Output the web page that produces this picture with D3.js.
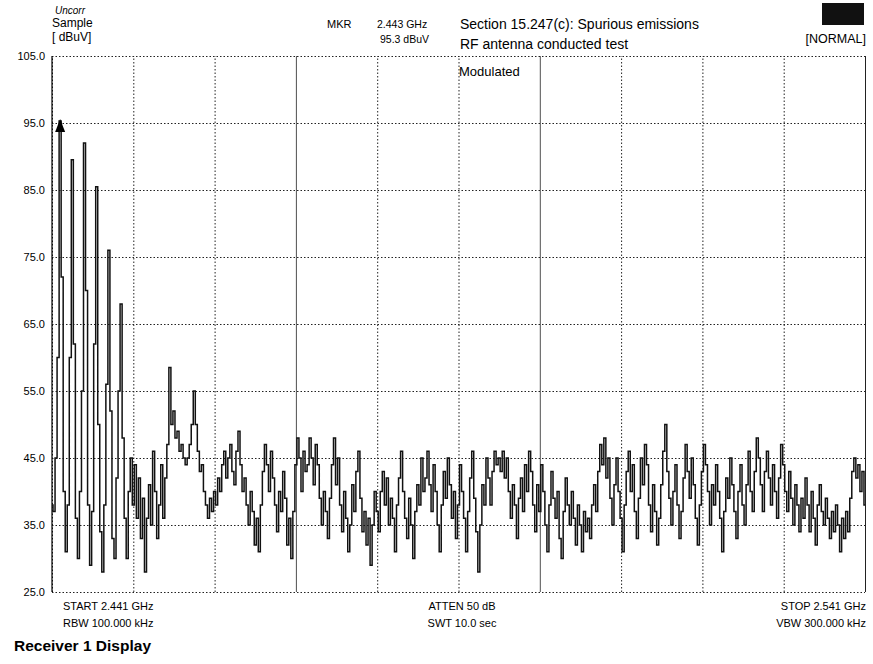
<!DOCTYPE html>
<html>
<head>
<meta charset="utf-8">
<script src="https://cdn.jsdelivr.net/npm/d3@7"></script>
<style>
  body { margin: 0; background: #fff; }
  svg { font-family: "Liberation Sans", Arial, sans-serif; }
</style>
</head>
<body>
<div id="chart"></div>
<script>
// sweep settings
const startGHz = 2.441;
const stopGHz = 2.541;
const yTicks = [25, 35, 45, 55, 65, 75, 85, 95, 105];
const xGrid = [2.441, 2.451, 2.461, 2.471, 2.481, 2.491, 2.501, 2.511, 2.521, 2.531, 2.541];
const marker = { freq: 2.443, level: 95.3 };

// trace levels in dBuV, 401 sweep points
const level = [
  38, 37, 45, 60, 95.3, 72, 40, 31, 38, 60, 89.5, 62, 36, 30, 40, 55, 92, 70, 38, 29,
  37, 62, 85.5, 50, 34, 28, 38, 56, 76, 52, 33, 30, 42, 55, 68, 48, 36, 30, 40, 45,
  38, 44, 36, 42, 33, 39, 28, 36, 41, 35, 46, 40, 33, 38, 44, 36, 42, 47, 58.5, 50,
  52, 48, 49, 46, 47, 45, 44, 45, 47, 50, 55, 50, 46, 43, 44, 40, 38, 36, 39, 37,
  40, 38, 42, 40, 44, 46, 42, 45, 47, 43, 41, 46, 49, 44, 40, 42, 38, 35, 40, 37,
  32, 36, 31, 38, 43, 47, 44, 40, 46, 42, 38, 34, 40, 37, 43, 39, 32, 36, 30, 37,
  44, 48, 45, 40, 46, 43, 44, 48, 45, 41, 47, 44, 39, 35, 40, 37, 33, 39, 44, 48,
  41, 45, 38, 34, 40, 36, 31, 35, 41, 37, 43, 46, 39, 34, 37, 32, 36, 29, 35, 40,
  37, 34, 40, 43, 38, 42, 35, 39, 36, 31, 38, 42, 46, 40, 36, 33, 39, 35, 30, 37,
  41, 38, 45, 40, 42, 46, 41, 37, 44, 40, 35, 31, 38, 43, 39, 45, 41, 36, 40, 33,
  38, 44, 40, 36, 31, 37, 42, 46, 39, 34, 28, 35, 41, 38, 45, 42, 38, 43, 46, 44,
  45, 43, 46, 42, 45, 40, 36, 41, 38, 33, 39, 42, 37, 44, 40, 46, 43, 38, 34, 41,
  37, 44, 40, 35, 31, 38, 43, 39, 36, 40, 33, 30, 37, 42, 38, 35, 40, 36, 32, 38,
  35, 31, 37, 34, 36, 33, 38, 41, 37, 43, 47, 44, 48, 42, 45, 39, 35, 41, 45, 40,
  36, 31, 38, 43, 46, 40, 44, 37, 33, 39, 45, 41, 47, 44, 38, 34, 41, 37, 32, 36,
  41, 46, 50, 43, 39, 35, 40, 44, 38, 33, 37, 42, 47, 43, 39, 45, 41, 36, 32, 38,
  43, 47, 44, 40, 35, 41, 38, 44, 40, 36, 31, 37, 42, 39, 45, 41, 37, 33, 40, 44,
  38, 35, 41, 46, 40, 37, 43, 48, 45, 41, 37, 43, 46, 42, 38, 44, 40, 36, 42, 47,
  44, 40, 37, 43, 39, 35, 41, 38, 34, 39, 36, 42, 38, 34, 40, 36, 32, 38, 41, 37,
  35, 39, 36, 33, 37, 34, 38, 35, 31, 36, 33, 37, 34, 39, 43, 45, 42, 44, 40, 43,
  38
];

const width = 873;
const height = 664;
const margin = { top: 56, right: 8, bottom: 72, left: 52 };

const svg = d3.select("#chart").append("svg")
  .attr("width", width)
  .attr("height", height);

let x = d3.scaleLinear()
  .domain([startGHz, stopGHz])
  .range([margin.left, width - margin.right]);

let y = d3.scaleLinear()
  .domain([25, 105])
  .range([height - margin.bottom, margin.top]);

const step = (stopGHz - startGHz) / (level.length - 1);
const trace = level.map((v, i) => ({ f: startGHz + i * step, v: v }));

// horizontal grid + labels
let yAxis = g => g
  .attr("transform", `translate(${margin.left},0)`)
  .call(d3.axisLeft(y).tickValues(yTicks).tickFormat(d3.format(".1f"))
    .tickSize(-(width - margin.left - margin.right)).tickPadding(7))
  .call(g => g.select(".domain").remove())
  .call(g => g.selectAll(".tick line")
    .attr("stroke", "#222").attr("stroke-dasharray", "1.5,2"))
  .call(g => g.selectAll(".tick text")
    .attr("font-size", 11).attr("fill", "#000"));

// vertical grid
let xAxis = g => g
  .attr("transform", `translate(0,${height - margin.bottom})`)
  .call(d3.axisBottom(x).tickValues(xGrid).tickFormat("")
    .tickSize(-(height - margin.top - margin.bottom)))
  .call(g => g.select(".domain").remove())
  .call(g => g.selectAll(".tick line")
    .attr("stroke", "#222").attr("stroke-dasharray", (d, i) => (i === 3 || i === 6 || i === 10) ? null : "1.5,2")
    .attr("stroke-width", (d, i) => (i === 3 || i === 6) ? 0.8 : 1));

svg.append("g").call(yAxis);
svg.append("g").call(xAxis);

// solid left edge
svg.append("line")
  .attr("x1", x(startGHz)).attr("x2", x(startGHz))
  .attr("y1", y(105)).attr("y2", y(25))
  .attr("stroke", "#000").attr("stroke-width", 1.2);

// trace, drawn as sample steps like the receiver screen
const line = d3.line()
  .curve(d3.curveStep)
  .x(d => x(d.f))
  .y(d => y(d.v));

svg.append("path")
  .datum(trace)
  .attr("fill", "none")
  .attr("stroke", "#111")
  .attr("stroke-width", 1.5)
  .attr("d", line);

// marker triangle at the peak
const peak = trace[d3.maxIndex(trace, d => d.v)];
const mx = x(peak.f), my = y(peak.v);
svg.append("path")
  .attr("d", `M${mx},${my - 2} L${mx - 5},${my + 11} L${mx + 5},${my + 11} Z`)
  .attr("fill", "#000");

// header texts
const txt = (tx, ty, s, opts = {}) => svg.append("text")
  .attr("x", tx).attr("y", ty)
  .attr("font-size", opts.size || 11)
  .attr("font-weight", opts.weight || "normal")
  .attr("font-style", opts.style || "normal")
  .attr("text-anchor", opts.anchor || "start")
  .attr("fill", "#000")
  .text(s);

txt(55, 14, "Uncorr", { size: 10, style: "italic" });
txt(52, 27, "Sample", { size: 12 });
txt(52, 41, "[ dBuV]", { size: 12 });

txt(327, 28, "MKR", { size: 11 });
txt(377, 28, marker.freq.toFixed(3) + " GHz", { size: 10.5 });
txt(380, 43, marker.level.toFixed(1) + " dBuV", { size: 10.5 });

txt(460, 29, "Section 15.247(c): Spurious emissions", { size: 14 });
txt(460, 49, "RF antenna conducted test", { size: 14 });
txt(459, 76, "Modulated", { size: 13 });

svg.append("rect")
  .attr("x", 822).attr("y", 3).attr("width", 42).attr("height", 22)
  .attr("fill", "#111");
txt(866, 43, "[NORMAL]", { size: 12.5, anchor: "end" });

// footer texts
txt(63, 610, "START " + startGHz.toFixed(3) + " GHz", { size: 11 });
txt(63, 627, "RBW 100.000 kHz", { size: 11 });
txt(462, 610, "ATTEN 50 dB", { size: 11, anchor: "middle" });
txt(462, 627, "SWT 10.0 sec", { size: 11, anchor: "middle" });
txt(866, 610, "STOP " + stopGHz.toFixed(3) + " GHz", { size: 11, anchor: "end" });
txt(866, 627, "VBW 300.000 kHz", { size: 11, anchor: "end" });
txt(14, 651, "Receiver 1 Display", { size: 15.5, weight: "bold" });
</script>
</body>
</html>
